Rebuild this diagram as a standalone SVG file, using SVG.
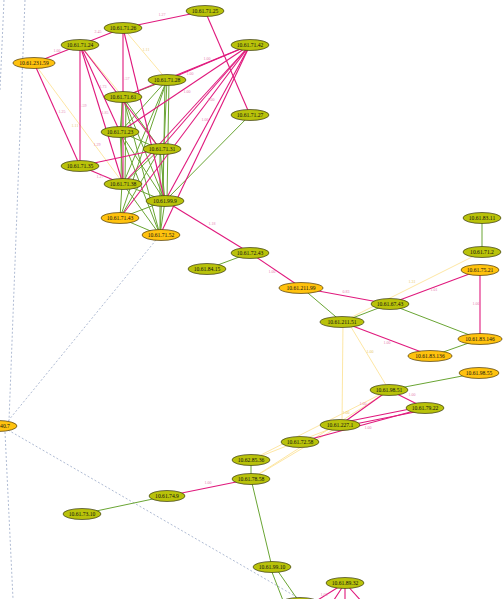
<svg xmlns="http://www.w3.org/2000/svg" width="504" height="599" viewBox="0 0 504 599">
<style>
.g ellipse{fill:#b9c20a;stroke:#3a3a18;stroke-width:0.7}
.o ellipse{fill:#ffc20e;stroke:#4a3a10;stroke-width:0.7}
.node text{font-family:"Liberation Serif",serif;font-size:5.6px;fill:#111;text-anchor:middle}
.m{stroke:#e0197d;stroke-width:1.1;fill:none}
.n{stroke:#6aa534;stroke-width:1;fill:none}
.y{stroke:#fde39a;stroke-width:0.9;fill:none}
.d{stroke:#9aaac8;stroke-width:0.8;stroke-dasharray:2,2;fill:none}
.lm{font-family:"Liberation Serif",serif;font-size:4px;fill:#e77fb3;text-anchor:middle}
.ly{font-family:"Liberation Serif",serif;font-size:4px;fill:#e9c86a;text-anchor:middle}
</style>
<rect width="504" height="599" fill="#fff"/>
<g id="connectors">
<path class="d" d="M25,0 L9,421"/>
<path class="d" d="M5,432 L13,599"/>
<path class="d" d="M4,0 L0,90"/>
<path class="d" d="M8,421 L156,240"/>
<path class="d" d="M8,430 L300,599"/>
<path class="y" d="M123,28 L167,80"/>
<path class="y" d="M80,45 L123,97"/>
<path class="y" d="M34,63 L123,183"/>
<path class="y" d="M482,252 L342,322"/>
<path class="y" d="M343,322 L342,425"/>
<path class="y" d="M348,322 L389,390"/>
<path class="y" d="M389,390 L251,460"/>
<path class="y" d="M385,393 L251,479"/>
<path class="y" d="M340,425 L251,460"/>
<path class="y" d="M338,427 L251,479"/>
<path class="n" d="M482,218 L482,252"/>
<path class="n" d="M250,253 L207,269"/>
<path class="n" d="M302,288 L342,322"/>
<path class="n" d="M389,304 L342,322"/>
<path class="n" d="M389,304 L480,339"/>
<path class="n" d="M480,339 L432,356"/>
<path class="n" d="M478,373 L389,390"/>
<path class="n" d="M251,460 L251,479"/>
<path class="n" d="M167,496 L82,514"/>
<path class="n" d="M251,479 L272,567"/>
<path class="n" d="M270,567 L284,603"/>
<path class="n" d="M275,567 L300,603"/>
<path class="n" d="M250,115 L165,201"/>
<path class="n" d="M122,97 L121,184 M126,97 L125,184"/>
<path class="n" d="M123,97 L160,149"/>
<path class="n" d="M123,97 L165,201"/>
<path class="n" d="M123,97 L160,235"/>
<path class="n" d="M123,97 L120,132"/>
<path class="n" d="M167,80 L123,97"/>
<path class="n" d="M167,80 L120,132"/>
<path class="n" d="M167,80 L123,184"/>
<path class="n" d="M165,80 L163,201 M169,80 L167,201"/>
<path class="n" d="M167,80 L120,218"/>
<path class="n" d="M167,80 L160,235"/>
<path class="n" d="M120,132 L160,149"/>
<path class="n" d="M120,132 L165,201"/>
<path class="n" d="M120,132 L160,235"/>
<path class="n" d="M120,132 L123,184"/>
<path class="n" d="M160,149 L123,184"/>
<path class="n" d="M160,149 L120,218"/>
<path class="n" d="M160,149 L165,201"/>
<path class="n" d="M160,149 L160,235"/>
<path class="n" d="M123,184 L165,201"/>
<path class="n" d="M123,184 L160,235"/>
<path class="n" d="M122,184 L120,218"/>
<path class="n" d="M165,201 L120,218"/>
<path class="n" d="M165,201 L160,235"/>
<path class="n" d="M120,218 L160,235"/>
<path class="m" d="M80,45 L123,28"/>
<path class="m" d="M123,28 L205,11"/>
<path class="m" d="M34,63 L80,45"/>
<path class="m" d="M34,63 L80,166"/>
<path class="m" d="M80,45 L80,166"/>
<path class="m" d="M80,45 L120,132"/>
<path class="m" d="M80,45 L123,184"/>
<path class="m" d="M80,45 L160,149"/>
<path class="m" d="M123,28 L123,184"/>
<path class="m" d="M123,28 L165,201"/>
<path class="m" d="M250,45 L167,80"/>
<path class="m" d="M250,45 L123,97"/>
<path class="m" d="M250,45 L120,132"/>
<path class="m" d="M250,45 L160,149"/>
<path class="m" d="M250,45 L123,184"/>
<path class="m" d="M250,45 L165,201"/>
<path class="m" d="M250,45 L120,218"/>
<path class="m" d="M250,45 L160,235"/>
<path class="m" d="M205,11 L250,115"/>
<path class="m" d="M80,166 L160,149"/>
<path class="m" d="M80,166 L123,184"/>
<path class="m" d="M165,201 L250,253"/>
<path class="m" d="M250,253 L302,288"/>
<path class="m" d="M302,288 L389,304"/>
<path class="m" d="M480,270 L389,304"/>
<path class="m" d="M480,270 L480,339"/>
<path class="m" d="M342,322 L432,356"/>
<path class="m" d="M389,390 L425,408"/>
<path class="m" d="M389,390 L340,425"/>
<path class="m" d="M425,406 L340,423 M425,410 L340,427"/>
<path class="m" d="M425,408 L300,442"/>
<path class="m" d="M251,479 L167,496"/>
<path class="m" d="M345,583 L313,603 M345,583 L332,603 M345,583 L345,603 M345,583 L363,603"/>
<text class="lm" x="98" y="33">2.45</text>
<text class="lm" x="162" y="16">1.27</text>
<text class="lm" x="57" y="52">1.00</text>
<text class="lm" x="62" y="113">1.25</text>
<text class="lm" x="83" y="107">1.59</text>
<text class="lm" x="103" y="88">1.73</text>
<text class="lm" x="105" y="114">1.85</text>
<text class="lm" x="126" y="80">1.57</text>
<text class="lm" x="207" y="60">1.00</text>
<text class="lm" x="190" y="75">1.00</text>
<text class="lm" x="187" y="93">1.00</text>
<text class="lm" x="211" y="101">1.00</text>
<text class="lm" x="205" y="121">1.00</text>
<text class="lm" x="97" y="146">1.29</text>
<text class="lm" x="100" y="178">1.27</text>
<text class="lm" x="212" y="225">1.18</text>
<text class="lm" x="272" y="273">1.00</text>
<text class="lm" x="346" y="293">0.83</text>
<text class="lm" x="434" y="291">1.01</text>
<text class="lm" x="476" y="305">1.00</text>
<text class="lm" x="387" y="344">1.00</text>
<text class="lm" x="412" y="396">1.00</text>
<text class="lm" x="363" y="405">1.00</text>
<text class="lm" x="368" y="429">1.00</text>
<text class="lm" x="208" y="484">1.00</text>
<text class="lm" x="324" y="596">1.00</text>
<text class="ly" x="146" y="51">1.11</text>
<text class="ly" x="75" y="127">1.11</text>
<text class="ly" x="412" y="283">1.31</text>
<text class="ly" x="370" y="353">1.00</text>
<text class="ly" x="346" y="414">1.00</text>
</g>
<g id="n_71_25" class="node g"><ellipse cx="205" cy="11" rx="19" ry="5.5"/><text x="205" y="13">10.61.71.25</text></g>
<g id="n_71_26" class="node g"><ellipse cx="123" cy="28" rx="19" ry="5.5"/><text x="123" y="30">10.61.71.26</text></g>
<g id="n_71_24" class="node g"><ellipse cx="80" cy="45" rx="19" ry="5.5"/><text x="80" y="47">10.61.71.24</text></g>
<g id="n_71_42" class="node g"><ellipse cx="250" cy="45" rx="19" ry="5.5"/><text x="250" y="47">10.61.71.42</text></g>
<g id="n_231_59" class="node o"><ellipse cx="34" cy="63" rx="21" ry="5.5"/><text x="34" y="65">10.61.231.59</text></g>
<g id="n_71_28" class="node g"><ellipse cx="167" cy="80" rx="19" ry="5.5"/><text x="167" y="82">10.61.71.28</text></g>
<g id="n_71_61" class="node g"><ellipse cx="123" cy="97" rx="19" ry="5.5"/><text x="123" y="99">10.61.71.61</text></g>
<g id="n_71_27" class="node g"><ellipse cx="250" cy="115" rx="19" ry="5.5"/><text x="250" y="117">10.61.71.27</text></g>
<g id="n_71_23" class="node g"><ellipse cx="120" cy="132" rx="19" ry="5.5"/><text x="120" y="134">10.61.71.23</text></g>
<g id="n_71_31" class="node g"><ellipse cx="162" cy="149" rx="19" ry="5.5"/><text x="162" y="151">10.61.71.31</text></g>
<g id="n_71_35" class="node g"><ellipse cx="80" cy="166" rx="19" ry="5.5"/><text x="80" y="168">10.61.71.35</text></g>
<g id="n_71_38" class="node g"><ellipse cx="123" cy="184" rx="19" ry="5.5"/><text x="123" y="186">10.61.71.38</text></g>
<g id="n_99_9" class="node g"><ellipse cx="165" cy="201" rx="19" ry="5.5"/><text x="165" y="203">10.61.99.9</text></g>
<g id="n_71_43" class="node o"><ellipse cx="120" cy="218" rx="19" ry="5.5"/><text x="120" y="220">10.61.71.43</text></g>
<g id="n_71_52" class="node o"><ellipse cx="161" cy="235" rx="19" ry="5.5"/><text x="161" y="237">10.61.71.52</text></g>
<g id="n_72_43" class="node g"><ellipse cx="250" cy="253" rx="19" ry="5.5"/><text x="250" y="255">10.61.72.43</text></g>
<g id="n_84_15" class="node g"><ellipse cx="207" cy="269" rx="19" ry="5.5"/><text x="207" y="271">10.61.84.15</text></g>
<g id="n_211_99" class="node o"><ellipse cx="301" cy="288" rx="22" ry="5.5"/><text x="301" y="290">10.61.211.99</text></g>
<g id="n_67_43" class="node g"><ellipse cx="390" cy="304" rx="19" ry="5.5"/><text x="390" y="306">10.61.67.43</text></g>
<g id="n_211_51" class="node g"><ellipse cx="342" cy="322" rx="22" ry="5.5"/><text x="342" y="324">10.61.211.51</text></g>
<g id="n_83_11" class="node g"><ellipse cx="482" cy="218" rx="19" ry="5.5"/><text x="482" y="220">10.61.83.11</text></g>
<g id="n_71_2" class="node g"><ellipse cx="482" cy="252" rx="19" ry="5.5"/><text x="482" y="254">10.61.71.2</text></g>
<g id="n_75_21" class="node o"><ellipse cx="480" cy="270" rx="19" ry="5.5"/><text x="480" y="272">10.61.75.21</text></g>
<g id="n_83_146" class="node o"><ellipse cx="480" cy="339" rx="22" ry="5.5"/><text x="480" y="341">10.61.83.146</text></g>
<g id="n_83_136" class="node o"><ellipse cx="430" cy="356" rx="22" ry="5.5"/><text x="430" y="358">10.61.83.136</text></g>
<g id="n_98_55" class="node o"><ellipse cx="479" cy="373" rx="20" ry="5.5"/><text x="479" y="375">10.61.98.55</text></g>
<g id="n_98_51" class="node g"><ellipse cx="389" cy="390" rx="19" ry="5.5"/><text x="389" y="392">10.61.98.51</text></g>
<g id="n_79_22" class="node g"><ellipse cx="425" cy="408" rx="19" ry="5.5"/><text x="425" y="410">10.61.79.22</text></g>
<g id="n_227_1" class="node g"><ellipse cx="340" cy="425" rx="20" ry="5.5"/><text x="340" y="427">10.61.227.1</text></g>
<g id="n_72_58" class="node g"><ellipse cx="300" cy="442" rx="19" ry="5.5"/><text x="300" y="444">10.61.72.58</text></g>
<g id="n_85_36" class="node g"><ellipse cx="251" cy="460" rx="19" ry="5.5"/><text x="251" y="462">10.62.85.36</text></g>
<g id="n_78_58" class="node g"><ellipse cx="251" cy="479" rx="19" ry="5.5"/><text x="251" y="481">10.61.78.58</text></g>
<g id="n_74_9" class="node g"><ellipse cx="167" cy="496" rx="18" ry="5.5"/><text x="167" y="498">10.61.74.9</text></g>
<g id="n_73_10" class="node g"><ellipse cx="82" cy="514" rx="19" ry="5.5"/><text x="82" y="516">10.61.73.10</text></g>
<g id="n_99_10" class="node g"><ellipse cx="272" cy="567" rx="19" ry="5.5"/><text x="272" y="569">10.61.99.10</text></g>
<g id="n_89_32" class="node g"><ellipse cx="345" cy="583" rx="19" ry="5.5"/><text x="345" y="585">10.61.89.32</text></g>
<g id="n_bottom" class="node g"><ellipse cx="300" cy="603" rx="19" ry="5.5"/></g>
<g id="n_40_7" class="node o"><ellipse cx="-2" cy="426" rx="19" ry="5.5"/><text x="-2" y="428">10.64.40.7</text></g>
</svg>
